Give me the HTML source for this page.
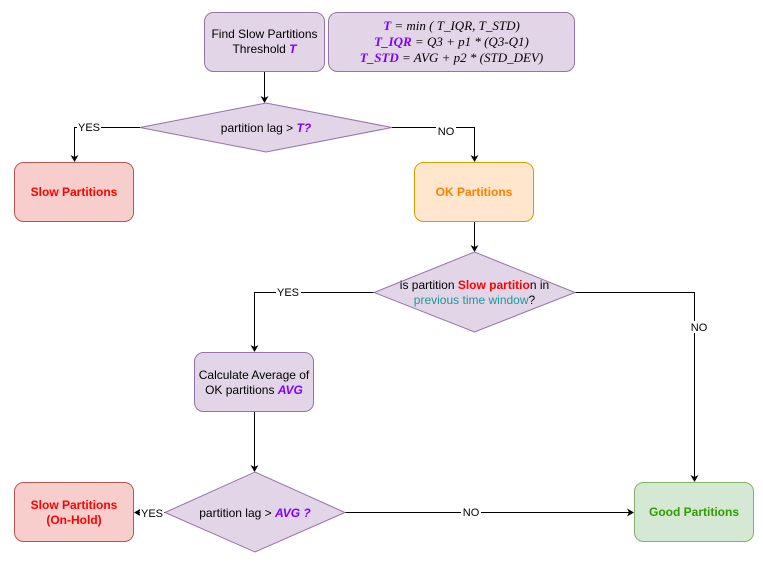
<!DOCTYPE html>
<html><head><meta charset="utf-8"><style>
html,body{margin:0;padding:0;background:#fff;}
svg{display:block;font-family:"Liberation Sans",Helvetica,Arial,sans-serif;}
</style></head><body>
<svg width="763" height="563" viewBox="0 0 763 563" xmlns="http://www.w3.org/2000/svg">
<defs>
<marker id="a" markerWidth="8" markerHeight="8" refX="6" refY="4" orient="auto" markerUnits="userSpaceOnUse">
<path d="M0,0 L7,4 L0,8 L2,4 Z" fill="#000"/></marker>
</defs>
<g fill="none" stroke="#000" stroke-width="1">
<path d="M264.5 72 V102" marker-end="url(#a)"/>
<path d="M140 127.5 H74.5 V161" marker-end="url(#a)"/>
<path d="M392 127.5 H474.5 V161" marker-end="url(#a)"/>
<path d="M474.5 222 V251" marker-end="url(#a)"/>
<path d="M374 292.5 H254.5 V351" marker-end="url(#a)"/>
<path d="M575 292.5 H694.5 V481" marker-end="url(#a)"/>
<path d="M254.5 412 V471" marker-end="url(#a)"/>
<path d="M165 512.5 H135" marker-end="url(#a)"/>
<path d="M345 512.5 H633" marker-end="url(#a)"/>
</g>
<g font-size="11" fill="#000">
<rect x="77" y="121" width="24" height="12" fill="#fff"/><text x="89" y="131" text-anchor="middle">YES</text>
<rect x="436" y="125" width="20" height="12" fill="#fff"/><text x="446" y="135" text-anchor="middle">NO</text>
<rect x="276" y="286" width="25" height="12" fill="#fff"/><text x="288" y="296" text-anchor="middle">YES</text>
<rect x="689" y="321" width="20" height="12" fill="#fff"/><text x="699" y="331" text-anchor="middle">NO</text>
<rect x="140" y="507" width="24" height="12" fill="#fff"/><text x="152" y="517" text-anchor="middle">YES</text>
<rect x="461" y="506" width="20" height="12" fill="#fff"/><text x="471" y="516" text-anchor="middle">NO</text>
</g>
<g stroke-width="1">
<rect x="204.5" y="12.5" width="120" height="59" rx="9" fill="#e1d5e7" stroke="#9673a6"/>
<rect x="328.5" y="12.5" width="246" height="59" rx="9" fill="#e1d5e7" stroke="#9673a6"/>
<path d="M140 127.5 L266 103 L392 127.5 L266 152 Z" fill="#e1d5e7" stroke="#9673a6"/>
<rect x="14.5" y="162.5" width="119" height="59" rx="9" fill="#f8cecc" stroke="#b85450"/>
<rect x="414.5" y="162.5" width="119" height="59" rx="9" fill="#ffe6cc" stroke="#d79b00"/>
<path d="M374 292.5 L474.5 252 L575 292.5 L474.5 332 Z" fill="#e1d5e7" stroke="#9673a6"/>
<rect x="194.5" y="352.5" width="119" height="59" rx="9" fill="#e1d5e7" stroke="#9673a6"/>
<path d="M165 512.5 L255 472 L345 512.5 L255 552 Z" fill="#e1d5e7" stroke="#9673a6"/>
<rect x="14.5" y="482.5" width="119" height="59" rx="9" fill="#f8cecc" stroke="#b85450"/>
<rect x="634.5" y="482.5" width="119" height="59" rx="9" fill="#d5e8d4" stroke="#82b366"/>
</g>
<g font-size="12" fill="#000" text-anchor="middle">
<text x="264.5" y="38">Find Slow Partitions</text>
<text x="264.5" y="53">Threshold <tspan fill="#7f00ff" font-weight="bold" font-style="italic">T</tspan></text>
<g font-family="Liberation Serif,serif" font-style="italic" font-size="13">
<text x="451.5" y="30"><tspan fill="#7f00ff" font-weight="bold">T</tspan> = min ( T_IQR, T_STD)</text>
<text x="451.5" y="46"><tspan fill="#7f00ff" font-weight="bold">T_IQR</tspan> = Q3 + p1 * (Q3-Q1)</text>
<text x="451.5" y="62"><tspan fill="#7f00ff" font-weight="bold">T_STD</tspan> = AVG + p2 * (STD_DEV)</text>
</g>
<text x="266" y="132">partition lag &gt; <tspan fill="#7f00ff" font-weight="bold" font-style="italic">T?</tspan></text>
<text x="74" y="196" fill="#ff0000" font-weight="bold">Slow Partitions</text>
<text x="474" y="196" fill="#ff8000" font-weight="bold">OK Partitions</text>
<text x="474.5" y="289">is partition <tspan fill="#ff0000" font-weight="bold">Slow partitio</tspan>n in</text>
<text x="474.5" y="304"><tspan fill="#1a9a9a">previous time window</tspan>?</text>
<text x="254" y="379">Calculate Average of</text>
<text x="254" y="394">OK partitions <tspan fill="#7f00ff" font-weight="bold" font-style="italic">AVG</tspan></text>
<text x="255" y="517">partition lag &gt; <tspan fill="#7f00ff" font-weight="bold" font-style="italic">AVG ?</tspan></text>
<text x="74" y="509" fill="#ff0000" font-weight="bold">Slow Partitions</text>
<text x="74" y="524" fill="#ff0000" font-weight="bold">(On-Hold)</text>
<text x="694" y="516" fill="#2d9d00" font-weight="bold">Good Partitions</text>
</g>
</svg>
</body></html>
